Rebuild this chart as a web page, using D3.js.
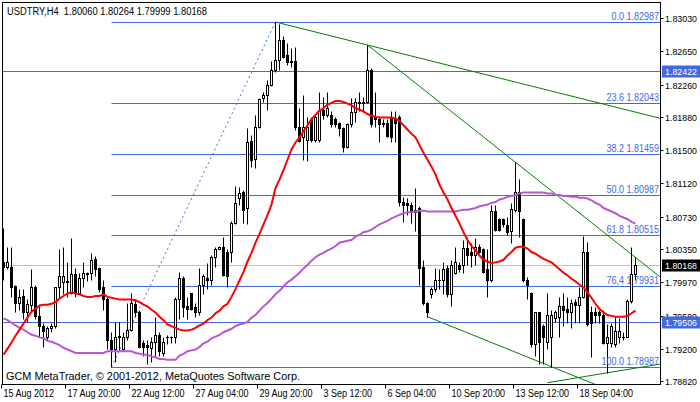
<!DOCTYPE html>
<html><head><meta charset="utf-8">
<script src="https://cdn.jsdelivr.net/npm/d3@7"></script>
<style>body{margin:0;background:#fff;overflow:hidden} svg{display:block}</style>
</head><body><svg id="c" width="700" height="402"></svg>
<script>
const titleText = "USDTRY,H4  1.80060 1.80264 1.79999 1.80168";
const footerText = "GCM MetaTrader, \u00A9 2001-2012, MetaQuotes Software Corp.";

const open = [
1.8020,1.8015,1.8015,1.7993,1.7973,1.7981,1.7962,1.7971,1.7991,1.7958,
1.7946,1.7933,1.7944,1.7946,1.7991,1.7997,1.7998,1.7985,1.8006,1.7985,
1.8002,1.8006,1.8008,1.8024,1.8014,1.7991,1.7977,1.7930,1.7919,1.7934,
1.7919,1.7934,1.7942,1.7972,1.7962,1.7927,1.7924,1.7921,1.7928,1.7936,
1.7915,1.7934,1.7933,1.7933,1.7978,1.8002,1.7969,1.7985,1.7968,1.7962,
1.7994,1.8002,1.8000,1.8026,1.8036,1.8038,1.8032,1.8032,1.8066,1.8095,
1.8102,1.8083,1.8161,1.8140,1.8177,1.8211,1.8214,1.8226,1.8243,1.8255,
1.8278,1.8260,1.8253,1.8253,1.8177,1.8165,1.8162,1.8186,1.8162,1.8162,
1.8197,1.8191,1.8191,1.8186,1.8182,1.8176,1.8154,1.8180,1.8194,1.8205,
1.8206,1.8206,1.8243,1.8188,1.8186,1.8182,1.8182,1.8188,1.8186,1.8188,
1.8090,1.8089,1.8087,1.8078,1.8083,1.8015,1.7973,1.7983,1.7989,1.7999,
1.8000,1.8014,1.7983,1.8008,1.8017,1.8017,1.8037,1.8032,1.8029,1.8038,
1.8035,1.8012,1.8000,1.8079,1.8070,1.8070,1.8063,1.8056,1.8081,1.8102,
1.8070,1.8000,1.7985,1.7925,1.7962,1.7946,1.7928,1.7934,1.7956,1.7957,
1.7969,1.7966,1.7962,1.7974,1.7971,1.7980,1.8032,1.7962,1.7962,1.7962,
1.7959,1.7927,1.7927,1.7925,1.7934,1.7934,1.7934,1.7975,1.80060];

const high = [
1.8060,1.8038,1.8038,1.7994,1.7989,1.7989,1.7977,1.8012,1.7994,1.7969,
1.7950,1.7946,1.7950,1.7992,1.8035,1.8038,1.8020,1.8048,1.8014,1.8008,
1.8020,1.8009,1.8031,1.8027,1.8015,1.8000,1.7980,1.7939,1.7951,1.7951,
1.7939,1.7973,1.7984,1.7977,1.7965,1.7930,1.7930,1.7934,1.7957,1.7939,
1.7933,1.7936,1.7935,1.7980,1.8009,1.8004,1.7980,1.7985,1.7973,1.8014,
1.8006,1.8019,1.8029,1.8038,1.8039,1.8049,1.8035,1.8068,1.8108,1.8107,
1.8104,1.8176,1.8168,1.8191,1.8211,1.8218,1.8232,1.8253,1.82987,1.8296,
1.8282,1.8274,1.8269,1.8270,1.8199,1.8214,1.8189,1.8188,1.8191,1.8218,
1.8212,1.8218,1.8195,1.8188,1.8183,1.8177,1.8182,1.8211,1.8211,1.8217,
1.8212,1.8272,1.8245,1.8218,1.8188,1.8186,1.8186,1.8195,1.8195,1.8191,
1.8096,1.8095,1.8090,1.8106,1.8085,1.8023,1.7974,1.7992,1.8014,1.8012,
1.8021,1.8017,1.8023,1.8038,1.8021,1.8046,1.8049,1.8043,1.8048,1.8041,
1.8037,1.8035,1.8087,1.8087,1.8072,1.8072,1.8073,1.8089,1.8136,1.8117,
1.8071,1.8003,1.7986,1.7963,1.7963,1.7948,1.7985,1.7965,1.7965,1.7980,
1.7985,1.7980,1.7977,1.7977,1.7992,1.8051,1.8044,1.7969,1.7968,1.7965,
1.7965,1.7948,1.7950,1.7957,1.7956,1.7939,1.7977,1.8038,1.80264];

const low = [
1.8000,1.8012,1.7980,1.7963,1.7965,1.7954,1.7951,1.7962,1.7954,1.7934,
1.7922,1.7930,1.7939,1.7944,1.7977,1.7983,1.7980,1.7983,1.7980,1.7983,
1.7992,1.7998,1.8000,1.8004,1.7986,1.7965,1.7919,1.78987,1.7905,1.7917,
1.7917,1.7930,1.7940,1.7957,1.7921,1.7911,1.7902,1.7904,1.7911,1.7911,
1.7911,1.7925,1.7927,1.7927,1.7954,1.7957,1.7954,1.7965,1.7957,1.7959,
1.7983,1.7989,1.7994,1.8015,1.8035,1.8004,1.7992,1.8021,1.8064,1.8087,
1.8066,1.8065,1.8131,1.8130,1.8176,1.8206,1.8197,1.8224,1.8241,1.8243,
1.8257,1.8249,1.8246,1.8174,1.8160,1.8139,1.8137,1.8160,1.8160,1.8160,
1.8186,1.8189,1.8177,1.8177,1.8166,1.8148,1.8153,1.8177,1.8183,1.8195,
1.8194,1.8205,1.8177,1.8177,1.8160,1.8177,1.8165,1.8159,1.8160,1.8085,
1.8067,1.8075,1.8066,1.8056,1.7994,1.7971,1.7957,1.7979,1.7986,1.7989,
1.7983,1.7980,1.7969,1.8006,1.8009,1.8008,1.8017,1.8015,1.8017,1.8031,
1.8008,1.7980,1.7997,1.8056,1.8056,1.8061,1.8052,1.8043,1.8078,1.8050,
1.7997,1.7977,1.7922,1.7911,1.7902,1.7902,1.7919,1.7899,1.7951,1.7934,
1.7946,1.7950,1.7944,1.7950,1.7950,1.7979,1.7946,1.7910,1.7950,1.7950,
1.7925,1.7892,1.7922,1.7922,1.7927,1.7930,1.7933,1.7973,1.79999];

const close = [
1.8015,1.8020,1.7992,1.7973,1.7980,1.7962,1.7972,1.7991,1.7958,1.7946,
1.7940,1.7944,1.7946,1.7991,1.8004,1.8004,1.7997,1.8006,1.7984,1.8002,
1.8008,1.8008,1.8023,1.8012,1.7989,1.7977,1.7930,1.7919,1.7934,1.7935,
1.7934,1.7942,1.7973,1.7962,1.7922,1.7922,1.7922,1.7928,1.7936,1.7917,
1.7928,1.7934,1.7934,1.7978,1.8002,1.7968,1.7966,1.7966,1.7962,1.7994,
1.8004,1.8000,1.8026,1.8036,1.8038,1.8005,1.8004,1.8066,1.8089,1.8100,
1.8081,1.8160,1.8139,1.8177,1.8209,1.8214,1.8226,1.8243,1.8255,1.8278,
1.8258,1.8252,1.8252,1.8177,1.8161,1.8177,1.8177,1.8162,1.8188,1.8197,
1.8191,1.8199,1.8180,1.8180,1.8176,1.8154,1.8180,1.8194,1.8206,1.8206,
1.8205,1.8243,1.8180,1.8186,1.8180,1.8180,1.8166,1.8165,1.8182,1.8090,
1.8087,1.8086,1.8078,1.8081,1.8014,1.7973,1.7962,1.7989,1.8000,1.8000,
1.8012,1.7983,1.8017,1.8020,1.8012,1.8037,1.8029,1.8028,1.8038,1.8032,
1.8009,1.7999,1.8079,1.8058,1.8058,1.8064,1.8055,1.8082,1.8102,1.8079,
1.8000,1.7994,1.7925,1.7962,1.7928,1.7933,1.7959,1.7959,1.7962,1.7969,
1.7965,1.7962,1.7973,1.7971,1.7980,1.8032,1.7948,1.7950,1.7959,1.7959,
1.7927,1.7934,1.7946,1.7940,1.7940,1.7933,1.7975,1.8006,1.80168];

const maFast = [
1.7913,1.7920,1.7927,1.7935,1.7942,1.7949,1.7956,1.7963,1.7966,1.7970,
1.7971,1.7971,1.7972,1.7974,1.7978,1.7981,1.7984,1.7985,1.7984,1.7983,
1.7981,1.7980,1.7980,1.7981,1.7981,1.7983,1.7980,1.7979,1.7978,1.7977,
1.7977,1.7977,1.7977,1.7976,1.7974,1.7971,1.7969,1.7965,1.7962,1.7957,
1.7953,1.7948,1.7946,1.7944,1.7942,1.7941,1.7941,1.7942,1.7944,1.7947,
1.7949,1.7953,1.7956,1.7961,1.7964,1.7969,1.7972,1.7980,1.7989,1.7999,
1.8009,1.8021,1.8031,1.8043,1.8053,1.8064,1.8075,1.8087,1.8106,1.8116,
1.8127,1.8139,1.8151,1.8159,1.8165,1.8172,1.8179,1.8186,1.8191,1.8196,
1.8199,1.8203,1.8205,1.8207,1.8207,1.8206,1.8204,1.8202,1.8199,1.8197,
1.8195,1.8192,1.8190,1.8189,1.8188,1.8188,1.8188,1.8188,1.8187,1.8184,
1.8179,1.8174,1.8169,1.8165,1.8156,1.8147,1.8139,1.8131,1.8122,1.8110,
1.8101,1.8093,1.8083,1.8074,1.8065,1.8055,1.8046,1.8039,1.8034,1.8028,
1.8023,1.8021,1.8019,1.8020,1.8021,1.8023,1.8028,1.8032,1.8037,1.8038,
1.8038,1.8036,1.8032,1.8030,1.8027,1.8024,1.8022,1.8020,1.8016,1.8012,
1.8008,1.8005,1.8001,1.7998,1.7994,1.7991,1.7985,1.7979,1.7972,1.7966,
1.7962,1.7959,1.7958,1.7957,1.7957,1.7957,1.7958,1.7961,1.7964];

const maSlow = [
1.7955,1.7953,1.7950,1.7947,1.7944,1.7942,1.7939,1.7936,1.7935,1.7933,
1.7932,1.7929,1.7928,1.7926,1.7924,1.7921,1.7919,1.7917,1.7915,1.7915,
1.7915,1.7915,1.7915,1.7915,1.7915,1.7915,1.7917,1.7917,1.7917,1.7917,
1.7917,1.7917,1.7917,1.7915,1.7914,1.7913,1.7913,1.7911,1.7910,1.7908,
1.7908,1.7907,1.7907,1.7907,1.7912,1.7914,1.7917,1.7918,1.7919,1.7922,
1.7926,1.7928,1.7932,1.7934,1.7936,1.7939,1.7941,1.7943,1.7946,1.7948,
1.7949,1.7951,1.7956,1.7959,1.7964,1.7969,1.7973,1.7978,1.7983,1.7987,
1.7992,1.7997,1.8000,1.8004,1.8008,1.8013,1.8017,1.8022,1.8026,1.8029,
1.8031,1.8034,1.8036,1.8039,1.8043,1.8044,1.8045,1.8046,1.8050,1.8052,
1.8055,1.8056,1.8058,1.8061,1.8064,1.8066,1.8068,1.8071,1.8073,1.8075,
1.8077,1.8078,1.8078,1.8079,1.8080,1.8080,1.8079,1.8079,1.8079,1.8079,
1.8079,1.8079,1.8079,1.8079,1.8080,1.8081,1.8081,1.8082,1.8083,1.8085,
1.8086,1.8087,1.8089,1.8090,1.8093,1.8094,1.8096,1.8097,1.8098,1.8100,
1.8101,1.8101,1.8101,1.8101,1.8101,1.8101,1.8100,1.8100,1.8098,1.8098,
1.8097,1.8097,1.8096,1.8096,1.8095,1.8095,1.8094,1.8092,1.8089,1.8087,
1.8083,1.8081,1.8079,1.8077,1.8074,1.8072,1.8070,1.8067,1.8065];

const timeTickIndex = [0,16,32,48,64,80,96,112,128,144];
const timeTickLabels = ["15 Aug 2012","17 Aug 20:00","22 Aug 12:00","27 Aug 04:00","29 Aug 20:00",
  "3 Sep 12:00","6 Sep 04:00","10 Sep 20:00","13 Sep 12:00","18 Sep 04:00"];
const priceTicks = [1.83030,1.82650,1.82260,1.81880,1.81500,1.81120,1.80730,1.80350,1.79970,1.79580,1.79200,1.78820];
const fibLevels = ["0.0","23.6","38.2","50.0","61.8","76,4","100.0"];
const fibPrices = [1.82987,1.82043,1.81459,1.80987,1.80515,1.79931,1.78987];
const fibAnchorBars = [27,68];           // low bar -> high bar
const fibAnchorPrices = [1.78987,1.82987];
const hLinePrices = [1.82422,1.79506];
const bidPrice = 1.80168;
// trend lines: [bar1, price1, bar2, price2]
const trendLines = [
  [68,1.82987,91,1.8272],
  [91,1.8272,128,1.8136],
  [106,1.7957,137,1.7899],
  [136,1.78805,164,1.7902]
];

const svg = d3.select("#c");
const L = 2.5, T = 2.5, R = 660.5, B = 384.5;
const x = d3.scaleLinear().domain([0,164]).range([3.5, 659.5]);
const y = d3.scaleLinear().domain([1.78987,1.82987]).range([367,22]);
const py = v => Math.round(y(v)) + 0.5;
const FONT = "'Liberation Sans', Arial, sans-serif";
const BLUE = "#4169e1";

function fit(sel, ratio){
  sel.each(function(){
    const w = this.getComputedTextLength();
    this.setAttribute("textLength", (w*ratio).toFixed(1));
    this.setAttribute("lengthAdjust","spacingAndGlyphs");
  });
}

svg.append("rect").attr("width",700).attr("height",402).attr("fill","#fff");
svg.append("defs").append("clipPath").attr("id","pa")
  .append("rect").attr("x",L).attr("y",T).attr("width",R-L).attr("height",B-T);
const g = svg.append("g").attr("clip-path","url(#pa)");

// full-width horizontal lines
g.append("line").attr("x1",L).attr("x2",R).attr("y1",py(bidPrice)).attr("y2",py(bidPrice))
  .attr("stroke","#c0c0c0").attr("stroke-width",1);
g.selectAll(".hl").data(hLinePrices).enter().append("line")
  .attr("x1",L).attr("x2",R).attr("y1",d=>py(d)).attr("y2",d=>py(d))
  .attr("stroke",BLUE).attr("stroke-width",1);

// fib levels
g.selectAll(".fib").data(fibPrices).enter().append("line")
  .attr("x1",x(fibAnchorBars[0])).attr("x2",R).attr("y1",d=>py(d)).attr("y2",d=>py(d))
  .attr("stroke",BLUE).attr("stroke-width",1);
g.append("line")
  .attr("x1",x(fibAnchorBars[0])).attr("y1",y(fibAnchorPrices[0]))
  .attr("x2",x(fibAnchorBars[1])).attr("y2",y(fibAnchorPrices[1]))
  .attr("stroke",BLUE).attr("stroke-width",1).attr("stroke-dasharray","2,3");

// trend lines (extended to the right edge)
trendLines.forEach(t=>{
  const [b1,p1,b2,p2] = t;
  const slope = (p2-p1)/(b2-b1);
  const bEnd = 166;
  g.append("line")
    .attr("x1",x(b1)).attr("y1",y(p1))
    .attr("x2",x(bEnd)).attr("y2",y(p1+slope*(bEnd-b1)))
    .attr("stroke","#008000").attr("stroke-width",1);
});

// candles
const bars = d3.range(open.length);
const cg = g.append("g");
bars.forEach(i=>{
  const cx = x(i);
  cg.append("line").attr("x1",cx).attr("x2",cx).attr("y1",py(high[i])).attr("y2",py(low[i]))
    .attr("stroke","#000").attr("stroke-width",1);
  const top = py(Math.max(open[i],close[i])), bot = py(Math.min(open[i],close[i]));
  const bull = close[i] >= open[i];
  if (bot - top < 1) {
    cg.append("line").attr("x1",cx-1.5).attr("x2",cx+1.5).attr("y1",top).attr("y2",top)
      .attr("stroke","#000").attr("stroke-width",1);
  } else {
    cg.append("rect").attr("x",cx-1).attr("width",2).attr("y",top).attr("height",bot-top)
      .attr("fill", bull ? "#fff" : "#000").attr("stroke","#000").attr("stroke-width",1);
  }
});

// moving averages
const lineGen = arr => d3.line().x((d,i)=>x(i)).y(d=>y(d))(arr);
g.append("path").attr("d",lineGen(maSlow)).attr("fill","none").attr("stroke","#b956d4").attr("stroke-width",2);
g.append("path").attr("d",lineGen(maFast)).attr("fill","none").attr("stroke","#ff0000").attr("stroke-width",2);

// fib labels
const fl = g.selectAll(".fl").data(fibPrices).enter().append("text")
  .attr("x",659).attr("y",d=>py(d)-2.5).attr("text-anchor","end")
  .attr("font-family",FONT).attr("font-size",10).attr("fill",BLUE)
  .text((d,i)=>fibLevels[i]+" "+d.toFixed(5));
fit(fl,0.9);

// frame
svg.append("rect").attr("x",L).attr("y",T).attr("width",R-L).attr("height",B-T)
  .attr("fill","none").attr("stroke","#000").attr("stroke-width",1);

// price axis
svg.selectAll(".pt").data(priceTicks).enter().append("line")
  .attr("x1",R).attr("x2",R+3).attr("y1",d=>py(d)).attr("y2",d=>py(d)).attr("stroke","#000");
const pl = svg.selectAll(".pl").data(priceTicks).enter().append("text")
  .attr("x",665).attr("y",d=>py(d)+3.5).attr("font-family",FONT).attr("font-size",9.5).attr("fill","#000")
  .attr("textLength",32).attr("lengthAdjust","spacingAndGlyphs")
  .text(d=>d.toFixed(5));

// highlighted price labels
const tags = hLinePrices.map(p=>({p, bg:BLUE})).concat([{p:bidPrice,bg:"#000"}]);
tags.forEach(t=>{
  svg.append("rect").attr("x",662).attr("y",py(t.p)-6).attr("width",38).attr("height",12).attr("fill",t.bg);
  svg.append("text").attr("x",665).attr("y",py(t.p)+3.5).attr("font-family",FONT)
    .attr("font-size",9.5).attr("fill","#fff").attr("textLength",32).attr("lengthAdjust","spacingAndGlyphs")
    .text(t.p.toFixed(5));
});

// time axis
svg.selectAll(".tt").data(timeTickIndex).enter().append("line")
  .attr("x1",d=>x(d)-2).attr("x2",d=>x(d)-2).attr("y1",B).attr("y2",B+4).attr("stroke","#000");
const tl = svg.selectAll(".tl").data(timeTickIndex).enter().append("text")
  .attr("x",d=>x(d)).attr("y",397).attr("font-family",FONT).attr("font-size",10).attr("fill","#000")
  .text((d,i)=>timeTickLabels[i]);
fit(tl,0.9);

// title and footer
const tt = svg.append("text").attr("x",7).attr("y",15).attr("font-family",FONT).attr("font-size",10)
  .attr("fill","#000").attr("xml:space","preserve").text(titleText);
tt.attr("textLength",200).attr("lengthAdjust","spacingAndGlyphs");
const ft = svg.append("text").attr("x",6).attr("y",380).attr("font-family",FONT).attr("font-size",10.5)
  .attr("fill","#000").text(footerText);
ft.attr("textLength",294).attr("lengthAdjust","spacingAndGlyphs");
</script></body></html>
